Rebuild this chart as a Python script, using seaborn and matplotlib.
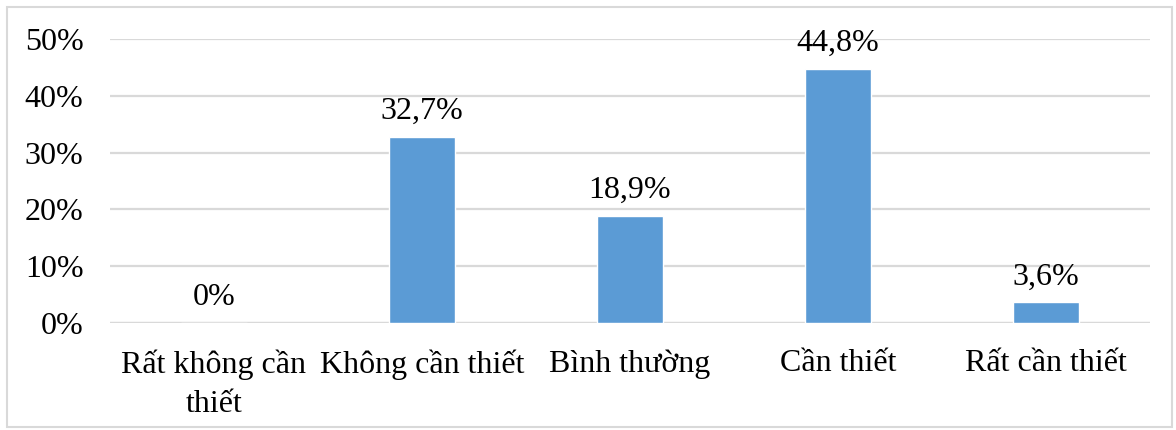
import matplotlib
matplotlib.use("Agg")
import matplotlib.pyplot as plt
from matplotlib.patches import Rectangle
from matplotlib.ticker import FuncFormatter
import seaborn as sns
import pandas as pd

categories = ["Rất không cần\nthiết", "Không cần thiết", "Bình thường", "Cần thiết", "Rất cần thiết"]
values = [0.0, 32.7, 18.9, 44.8, 3.6]
value_labels = ["0%", "32,7%", "18,9%", "44,8%", "3,6%"]
y_ticks = [0, 10, 20, 30, 40, 50]

sns.set_theme(style="white")
plt.rcParams["font.family"] = ["Liberation Serif", "DejaVu Serif"]

FS = 23

df = pd.DataFrame({"category": categories, "value": values})

fig = plt.figure(figsize=(11.76, 4.30), dpi=100)
ax = fig.add_axes([0.0935, 0.249, 0.8845, 0.66])

sns.barplot(data=df, x="category", y="value", color="#5B9BD5", saturation=1,
            width=0.32, ax=ax, zorder=3)

ax.set_ylim(0, 50)
ax.set_yticks(y_ticks)
ax.yaxis.set_major_formatter(FuncFormatter(lambda v, _: f"{int(v)}%"))
ax.grid(axis="y", color="#D9D9D9", linewidth=1.6, zorder=0)
ax.set_axisbelow(True)
for side in ["top", "right", "left", "bottom"]:
    ax.spines[side].set_visible(False)
ax.axhline(0, color="#D9D9D9", linewidth=1.6, zorder=1)
ax.set_xlabel("")
ax.set_ylabel("")
ax.tick_params(axis="both", length=0, labelsize=FS, colors="black")
ax.tick_params(axis="y", pad=19)
ax.tick_params(axis="x", pad=19)
for lbl in ax.get_xticklabels():
    lbl.set_linespacing(1.45)
ax.set_xlim(-0.5, 4.5)

ax.bar_label(ax.containers[0], labels=value_labels, padding=8, fontsize=FS, color="black")

fig.patches.append(Rectangle((7 / 1176, 3 / 430), 1 - 11 / 1176, 1 - 10 / 430,
                             transform=fig.transFigure, fill=False,
                             edgecolor="#D9D9D9", linewidth=1.5))

fig.savefig("out.png", dpi=100, facecolor="white")
